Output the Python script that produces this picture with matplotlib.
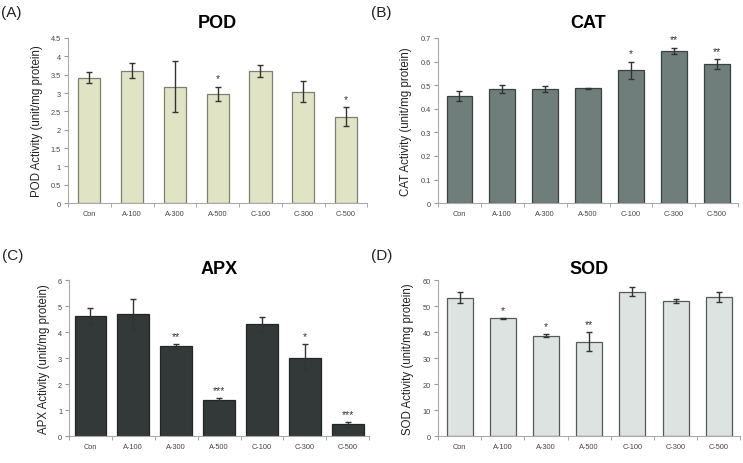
import matplotlib.pyplot as plt

plt.rcParams['font.family'] = ['Liberation Sans', 'DejaVu Sans']

grupos = ['Con', 'A-100', 'A-300', 'A-500', 'C-100', 'C-300', 'C-500']

pod = [3.42, 3.61, 3.17, 2.98, 3.61, 3.04, 2.36]
pod_err = [0.14, 0.21, 0.70, 0.19, 0.16, 0.28, 0.26]
pod_sig = ['', '', '', '*', '', '', '*']

cat = [0.455, 0.483, 0.483, 0.487, 0.563, 0.646, 0.588]
cat_err = [0.021, 0.016, 0.014, 0.003, 0.037, 0.013, 0.021]
cat_sig = ['', '', '', '', '*', '**', '**']

apx = [4.62, 4.69, 3.45, 1.40, 4.30, 3.02, 0.45]
apx_err = [0.30, 0.58, 0.10, 0.06, 0.30, 0.51, 0.10]
apx_sig = ['', '', '**', '***', '', '*', '***']

sod = [53.3, 45.3, 38.6, 36.3, 55.6, 51.9, 53.5]
sod_err = [2.2, 0.2, 0.6, 3.6, 1.6, 0.8, 1.9]
sod_sig = ['', '*', '*', '**', '', '', '']

fig = plt.figure(figsize=(7.43, 4.64), dpi=100)

paneles = [
    # letra, titulo, valores, error, sig, color, borde, ancho, ymax, paso, pos, pad
    ('(A)', 'POD', pod, pod_err, pod_sig, '#e0e4c5', '#7d8070', 0.52, 4.5, 0.5,
     [0.0915, 0.560, 0.403, 0.356], 8),
    ('(B)', 'CAT', cat, cat_err, cat_sig, '#6f7e7b', '#3a4240', 0.60, 0.7, 0.1,
     [0.5895, 0.560, 0.404, 0.356], 8),
    ('(C)', 'APX', apx, apx_err, apx_sig, '#333838', '#222626', 0.74, 6, 1,
     [0.0929, 0.058, 0.404, 0.336], 5),
    ('(D)', 'SOD', sod, sod_err, sod_sig, '#dde3e1', '#555a59', 0.60, 60, 10,
     [0.5895, 0.058, 0.407, 0.336], 5),
]

for letra, titulo, vals, err, sig, color, borde, ancho, ymax, paso, pos, pad in paneles:
    ax = fig.add_axes(pos)
    x = list(range(len(grupos)))
    ax.bar(x, vals, width=ancho, color=color, edgecolor=borde, linewidth=0.9, zorder=2)
    ax.errorbar(x, vals, yerr=err, fmt='none', ecolor='#333333', elinewidth=1,
                capsize=2.5, capthick=1, zorder=3)
    for xi, v, e, s in zip(x, vals, err, sig):
        if s:
            ax.text(xi, v + e + ymax * 0.02, s, ha='center', va='bottom',
                    fontsize=7.5, color='#333333')
    ax.set_xlim(-0.47, 6.47)
    ax.set_ylim(0, ymax)
    ticks = [i * paso for i in range(int(round(ymax / paso)) + 1)]
    ax.set_yticks(ticks)
    ax.set_yticklabels([('%g' % t) for t in ticks])
    ax.set_xticks(x)
    ax.set_xticklabels(grupos)
    ax.set_xticks([i - 0.5 for i in range(len(grupos) + 1)], minor=True)
    ax.tick_params(axis='x', which='major', length=0, labelsize=5.3, colors='#444444', pad=5)
    ax.tick_params(axis='x', which='minor', length=3, color='#999999')
    ax.tick_params(axis='y', length=3, labelsize=5.3, colors='#444444', color='#999999', pad=2)
    for lado in ['top', 'right']:
        ax.spines[lado].set_visible(False)
    for lado in ['left', 'bottom']:
        ax.spines[lado].set_color('#aaaaaa')
        ax.spines[lado].set_linewidth(0.8)
    ax.set_ylabel(titulo + ' Activity (unit/mg protein)', fontsize=8.3, color='#222222', labelpad=6)
    ax.set_title(titulo, fontsize=13, fontweight='bold', pad=pad)
    bb = ax.get_position()
    fig.text(bb.x0 - 0.09, bb.y1 + 0.04, letra, fontsize=11, color='#222222', va='bottom')

plt.savefig('out.png', dpi=100)
